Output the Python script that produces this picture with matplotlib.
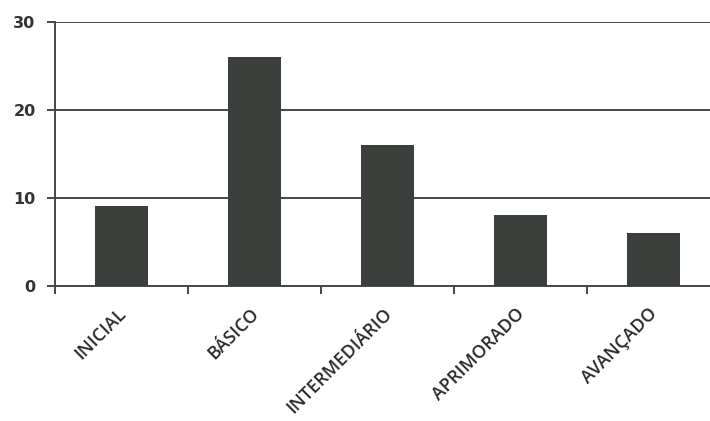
import matplotlib
matplotlib.use("Agg")
import matplotlib.pyplot as plt
from matplotlib.ticker import FixedLocator
from matplotlib.transforms import ScaledTranslation

# Number of students per proficiency level
levels = ["INICIAL", "BÁSICO", "INTERMEDIÁRIO", "APRIMORADO", "AVANÇADO"]
counts = [9, 26, 16, 8, 6]
y_ticks = [0, 10, 20, 30]

line_color = "#464646"
bar_color = "#3c403c"

fig = plt.figure(figsize=(7.10, 4.21), dpi=100)
ax = fig.add_axes([55 / 710, 1 - 285.5 / 421, 1 - 55 / 710, (285.5 - 21.7) / 421])

positions = list(range(len(levels)))
ax.bar(positions, counts, width=0.4, color=bar_color, zorder=3)

ax.set_ylim(0, 30)
ax.set_xlim(-0.5, 4.425)

# horizontal gridlines
ax.set_yticks(y_ticks)
ax.set_yticklabels([str(v) for v in y_ticks], fontfamily="DejaVu Sans",
                   fontweight="bold", fontsize=11.5, color="#333333")
ax.yaxis.grid(True, color=line_color, linewidth=1.4, zorder=1)
ax.tick_params(axis="y", length=6, width=1.4, color=line_color, pad=8)

# category labels at bar centres, tick marks between categories
ax.set_xticks(positions)
ax.set_xticklabels(levels, rotation=45, ha="right", va="top",
                   rotation_mode="anchor", fontfamily="Open Sans",
                   fontweight="semibold", fontsize=13, color="#2a2a2a")
ax.tick_params(axis="x", which="major", length=0, pad=14)
shift = ScaledTranslation(-5 / 100, 0, fig.dpi_scale_trans)
for lbl in ax.get_xticklabels():
    lbl.set_transform(lbl.get_transform() + shift)
ax.xaxis.set_minor_locator(FixedLocator([-0.5, 0.5, 1.5, 2.5, 3.5]))
ax.tick_params(axis="x", which="minor", length=6, width=1.4, color=line_color)

for side in ("top", "right"):
    ax.spines[side].set_visible(False)
for side in ("left", "bottom"):
    ax.spines[side].set_color(line_color)
    ax.spines[side].set_linewidth(1.4)

fig.savefig("out.png", dpi=100)
